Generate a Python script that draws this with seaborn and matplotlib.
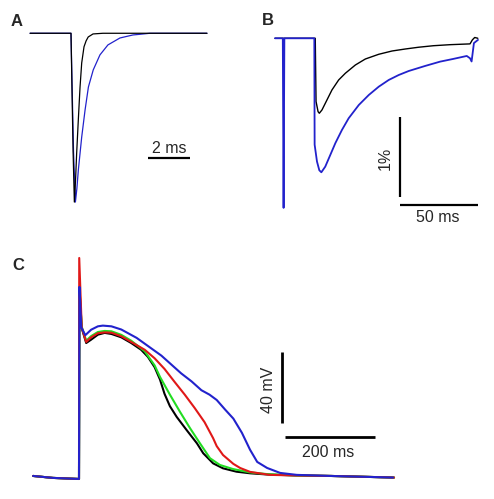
import numpy as np
import pandas as pd
import matplotlib
matplotlib.use("Agg")
import matplotlib.pyplot as plt
import seaborn as sns

# Panel A: normalized current traces (time in ms)
a_t_black = [-1.95, 0.0, 0.05, 0.10, 0.16, 0.22, 0.27, 0.35, 0.43, 0.51, 0.62, 0.72, 0.82, 1.05, 1.52, 6.48]
a_i_black = [0, 0, -0.35, -0.70, -1.0, -0.86, -0.71, -0.51, -0.32, -0.176, -0.08, -0.045, -0.022, -0.004, 0, 0]
a_t_blue = [-1.95, 0.0, 0.05, 0.12, 0.21, 0.28, 0.35, 0.51, 0.67, 0.83, 1.06, 1.38, 1.76, 2.33, 2.95, 3.29, 3.76, 6.48]
a_i_blue = [0, 0, -0.30, -0.70, -1.0, -0.92, -0.81, -0.615, -0.455, -0.318, -0.217, -0.128, -0.069, -0.028, -0.010, -0.006, 0, 0]

# Panel B: relative change in % (time in ms)
b_t_black = [0, 25.8, 26.3, 27.6, 28.4, 30.1, 33.3, 36.5, 40.8, 45.1, 51.5, 57.9, 66.5, 75.0, 83.5, 92.0,
             101.5, 112.2, 123.9, 125.0, 126.5, 128.0, 130.0]
b_f_black = [0, 0, -0.79, -0.917, -0.937, -0.896, -0.771, -0.646, -0.521, -0.437, -0.334, -0.259, -0.20, -0.159,
             -0.134, -0.112, -0.093, -0.080, -0.071, -0.07, -0.02, 0.01, 0.0]
b_t_blue = [0, 5.0, 5.5, 6.0, 25.2, 25.4, 26.9, 28.4, 29.7, 32.2, 35.4, 38.7, 42.9, 47.2, 53.7, 60.1, 66.5,
            72.9, 79.3, 85.7, 96.2, 105.8, 114.0, 122.9, 125.0, 126.0, 127.5, 130.1]
b_f_blue = [0, 0, -2.12, 0, 0, -1.33, -1.54, -1.65, -1.675, -1.605, -1.46, -1.31, -1.146, -1.0, -0.834, -0.709, -0.605,
            -0.521, -0.459, -0.409, -0.346, -0.292, -0.259, -0.221, -0.25, -0.29, -0.06, -0.02]

# Panel C: action potentials (time in ms, voltage in mV)
c_t_black = [-102, -58, 0, 1, 6, 16, 27, 42, 57, 72, 94, 116, 138, 153, 168, 180, 190, 202, 217, 239, 262,
             276, 298, 320, 350, 380, 420, 480, 560, 700]
c_v_black = [-83.3, -84.4, -85, 23, 0.0, -8.4, -6.5, -3.7, -2.7, -3.3, -5.2, -8.4, -12.2, -16.2, -22, -29, -37,
             -44, -50, -57.4, -64.9, -70.5, -76.2, -79, -80.9, -81.8, -82.5, -83, -83.3, -84.2]
c_t_green = [-102, -58, 0, 1, 6, 16, 27, 42, 57, 72, 94, 116, 146, 168, 180, 202, 224, 247, 269, 291, 313,
             342, 380, 420, 480, 560, 700]
c_v_green = [-83.3, -84.4, -85, 23, 0.8, -7.1, -4.5, -2.2, -1.6, -1.8, -3.8, -7.1, -13.1, -21, -27.5, -37.5,
             -47, -56.5, -65, -73.3, -77.1, -79.4, -81.3, -82.3, -83, -83.3, -84.2]
c_t_red = [-102, -58, 0, 0.5, 6, 16, 27, 42, 57, 72, 94, 116, 146, 168, 190, 213, 235, 257, 279, 298, 306,
           320, 343, 358, 380, 424, 480, 560, 700]
c_v_red = [-83.3, -84.4, -85, 39.5, 0.4, -7.8, -5.2, -2.9, -2.4, -2.6, -4.6, -7.8, -12.2, -17, -23, -30.5,
           -37.5, -45, -53, -62, -66.5, -71.5, -76.5, -78.8, -81, -82.7, -83, -83.3, -84.2]
c_t_blue = [-102, -58, 0, 1, 5, 14, 27, 42, 53, 72, 94, 128, 161, 183, 205, 227, 250, 272, 290, 306,
            325, 343, 362, 380, 396, 418, 447, 484, 558, 698]
c_v_blue = [-83.3, -84.4, -85, 23.2, 0.5, -4.0, -0.9, 1.0, 1.4, 1.0, -0.8, -5.5, -11.5, -15.5, -20.5, -25.5,
            -30, -35, -37.5, -40.5, -46, -51, -59, -68.5, -75.4, -78.8, -81.6, -82.7, -83.3, -84.2]

BLUE = "#2222cc"
BLACK = "#000000"
RED = "#e01818"
GREEN = "#22dd22"

sns.set_style("white")
plt.rcParams["font.family"] = ["Liberation Sans", "DejaVu Sans"]

W, H = 494, 499
fig = plt.figure(figsize=(W / 100, H / 100), dpi=100)


def px_axes(x0, y0, x1, y1):
    ax = fig.add_axes([x0 / W, 1 - y1 / H, (x1 - x0) / W, (y1 - y0) / H])
    ax.set_axis_off()
    return ax


def trace(ax, t, v, color, lw):
    df = pd.DataFrame({"t": t, "v": v})
    sns.lineplot(data=df, x="t", y="v", ax=ax, color=color, linewidth=lw,
                 sort=False, estimator=None, legend=False)


# ---- A ----
axA = px_axes(20, 25, 220, 210)
trace(axA, a_t_blue, a_i_blue, BLUE, 0.9)
trace(axA, a_t_black, a_i_black, BLACK, 0.9)
axA.set_xlim(-2.43, 7.10)
axA.set_ylim(-1.047, 0.049)
axA.plot([3.67, 5.67], [-0.739, -0.739], color="black", lw=1.6, solid_capstyle="butt")
axA.text(4.67, -0.711, "2 ms", ha="center", va="baseline", fontsize=11.5)
axA.set_axis_off()

# ---- B ----
axB = px_axes(265, 25, 490, 225)
trace(axB, b_t_black, b_f_black, BLACK, 1.0)
trace(axB, b_t_blue, b_f_blue, BLUE, 1.3)
axB.set_xlim(-6.41, 137.8)
axB.set_ylim(-2.334, 0.166)
axB.plot([80.1, 80.1], [-0.98, -1.98], color="black", lw=1.6, solid_capstyle="butt")
axB.plot([80.1, 130.1], [-2.084, -2.084], color="black", lw=1.6, solid_capstyle="butt")
axB.text(70.5, -1.5, "1%", ha="center", va="center", rotation=90, fontsize=11.5)
axB.text(104.5, -2.146, "50 ms", ha="center", va="top", fontsize=11.5)
axB.set_axis_off()

# ---- C ----
axC = px_axes(25, 250, 400, 485)
trace(axC, c_t_black, c_v_black, BLACK, 1.5)
trace(axC, c_t_green, c_v_green, GREEN, 1.5)
trace(axC, c_t_red, c_v_red, RED, 1.5)
trace(axC, c_t_blue, c_v_blue, BLUE, 1.5)
axC.set_xlim(-120, 713.3)
axC.set_ylim(-88.4, 44.0)
axC.plot([451, 451], [-13.45, -53.45], color="black", lw=2.0, solid_capstyle="butt")
axC.plot([457.8, 657.8], [-61.3, -61.3], color="black", lw=2.0, solid_capstyle="butt")
axC.text(420, -34.9, "40 mV", ha="center", va="center", rotation=90, fontsize=11.5)
axC.text(553, -65.8, "200 ms", ha="center", va="top", fontsize=11.5)
axC.set_axis_off()

# panel letters
for lab, x, y in [("A", 11, 26), ("B", 262, 25), ("C", 12, 270)]:
    fig.text(x / W, 1 - y / H, lab, fontsize=12, fontweight="bold", va="baseline", ha="left")

fig.savefig("out.png", dpi=100)
